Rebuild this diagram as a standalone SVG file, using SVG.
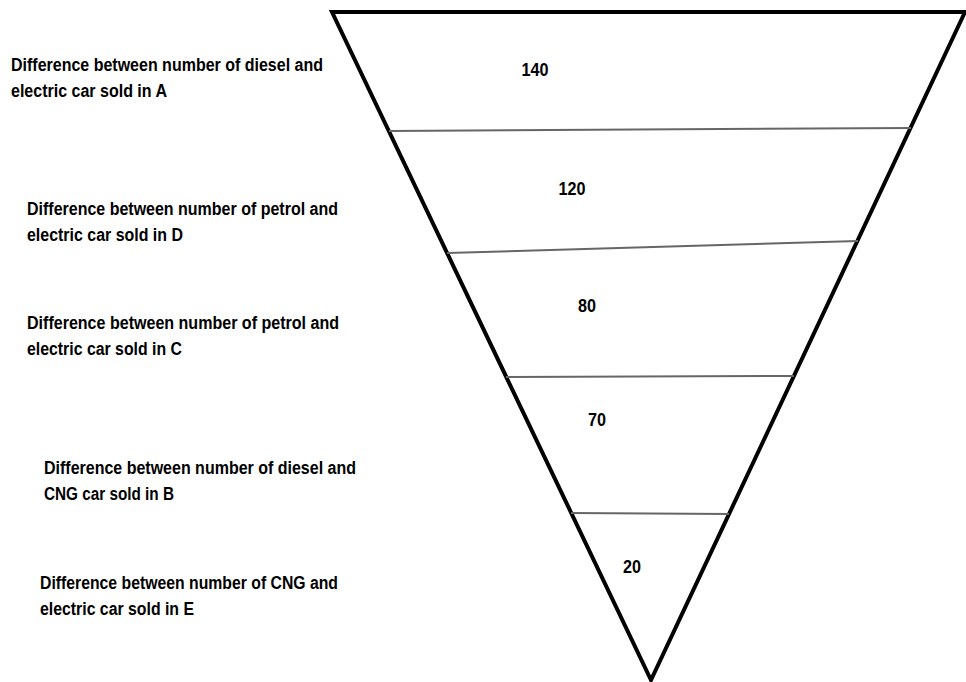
<svg xmlns="http://www.w3.org/2000/svg" width="966" height="682" viewBox="0 0 966 682">
<style>
.lbl{font-family:"Liberation Sans",Arial,sans-serif;font-weight:bold;font-size:18px;fill:#000}
.num{font-family:"Liberation Sans",Arial,sans-serif;font-weight:bold;font-size:18px;fill:#000;text-anchor:middle}
.tri{fill:#fff;stroke:#000;stroke-width:4;stroke-linejoin:miter}
.div{stroke:#666;stroke-width:2;fill:none}
</style>
<rect width="966" height="682" fill="#fff"/>
<g id="funnel">
<polygon class="tri" points="332,12 965,12 651,680"/>
</g>
<g id="connectors">
<line class="div" x1="389" y1="131" x2="911" y2="128"/>
<line class="div" x1="447" y1="253" x2="858" y2="241"/>
<line class="div" x1="506" y1="377" x2="794" y2="376"/>
<line class="div" x1="571" y1="513" x2="729" y2="514"/>
</g>
<g id="seg-A">
<text class="num" x="535" y="76" textLength="27" lengthAdjust="spacingAndGlyphs">140</text>
<text class="lbl" x="11" y="71" textLength="312" lengthAdjust="spacingAndGlyphs">Difference between number of diesel and</text>
<text class="lbl" x="11" y="97" textLength="156" lengthAdjust="spacingAndGlyphs">electric car sold in A</text>
</g>
<g id="seg-D">
<text class="num" x="572" y="195" textLength="27" lengthAdjust="spacingAndGlyphs">120</text>
<text class="lbl" x="27" y="215" textLength="311" lengthAdjust="spacingAndGlyphs">Difference between number of petrol and</text>
<text class="lbl" x="27" y="241" textLength="156" lengthAdjust="spacingAndGlyphs">electric car sold in D</text>
</g>
<g id="seg-C">
<text class="num" x="587" y="312" textLength="18" lengthAdjust="spacingAndGlyphs">80</text>
<text class="lbl" x="27" y="329" textLength="312" lengthAdjust="spacingAndGlyphs">Difference between number of petrol and</text>
<text class="lbl" x="27" y="355" textLength="155" lengthAdjust="spacingAndGlyphs">electric car sold in C</text>
</g>
<g id="seg-B">
<text class="num" x="597" y="426" textLength="18" lengthAdjust="spacingAndGlyphs">70</text>
<text class="lbl" x="44" y="474" textLength="312" lengthAdjust="spacingAndGlyphs">Difference between number of diesel and</text>
<text class="lbl" x="44" y="500" textLength="130" lengthAdjust="spacingAndGlyphs">CNG car sold in B</text>
</g>
<g id="seg-E">
<text class="num" x="632" y="573" textLength="18" lengthAdjust="spacingAndGlyphs">20</text>
<text class="lbl" x="40" y="589" textLength="298" lengthAdjust="spacingAndGlyphs">Difference between number of CNG and</text>
<text class="lbl" x="40" y="615" textLength="154" lengthAdjust="spacingAndGlyphs">electric car sold in E</text>
</g>
</svg>
